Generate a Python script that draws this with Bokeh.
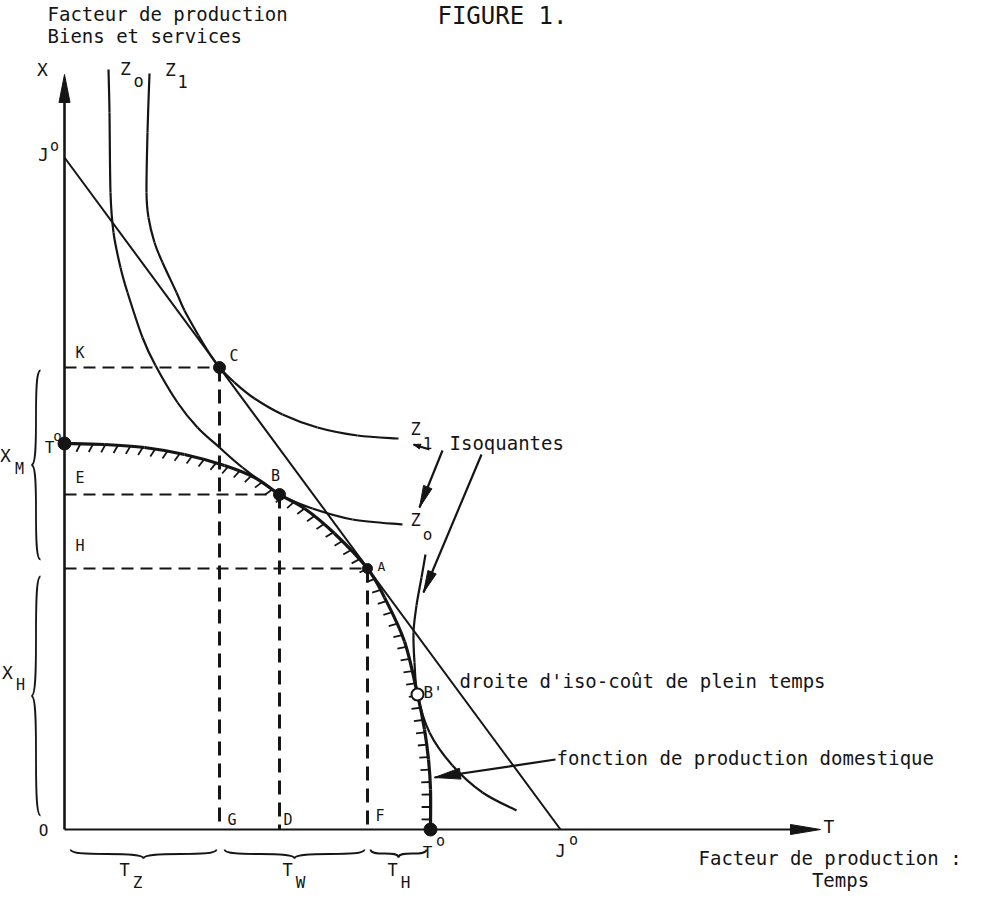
import numpy as np
from bokeh.plotting import figure
from bokeh.models import Range1d, Label
from bokeh.embed import file_html
from bokeh.resources import INLINE

INK = "#151515"
MONO = "DejaVu Sans Mono"

# ---------------- data (T = time input, X = goods & services input) ----------------
t_axis_end = 756
x_axis_end = 755

# full-time iso-cost line J0 - J0
j0_t = 496
j0_x = 672

# domestic production function T0 - T0
ppf_t = [0, 40, 80, 120, 160, 190, 215, 240, 270, 303, 320, 340, 353, 360, 364, 366, 366]
ppf_x = [386, 385, 382, 375, 364, 352, 335, 321, 296, 261, 232, 188, 135, 100, 70, 40, 0]

# isoquant Z0
z0_t = [44, 45, 46, 49, 56, 63, 78, 91, 113, 133, 155, 178, 215, 248, 288, 338]
z0_x = [760, 717, 637, 597, 562, 537, 492, 464, 427, 402, 382, 362, 335, 321, 310, 305]

# isoquant Z1
z1_t = [85, 83, 82, 84, 90, 98, 112, 120, 134, 145, 155, 170, 190, 218, 253, 293, 334]
z1_x = [756, 697, 637, 612, 587, 567, 537, 519, 494, 476, 462, 447, 431, 415, 402, 394, 391]

# lower isoquant through B'
z2_t = [361, 357, 352, 349, 350, 353, 365, 388, 418, 452]
z2_x = [275, 252, 224, 197, 167, 135, 97, 64, 37, 19]

# named points C, B, A, B'
pt_names = ["C", "B", "A", "B'"]
pt_t = [155, 215, 303, 353]
pt_x = [462, 335, 261, 135]

# ---------------- figure ----------------
W, H = 968, 894
p = figure(width=W, height=H, x_range=Range1d(-64, 904), y_range=Range1d(-65, 829),
           output_backend="svg", toolbar_location=None, min_border=0,
           x_axis_type=None, y_axis_type=None)
p.grid.visible = False
p.outline_line_color = None
p.background_fill_color = "white"
p.border_fill_color = "white"


def smooth(ts, xs):
    P = np.column_stack([ts, xs]).astype(float)
    n = len(P)
    out = dict(x0=[], y0=[], x1=[], y1=[], cx0=[], cy0=[], cx1=[], cy1=[])
    for i in range(n - 1):
        p0, p1 = P[i], P[i + 1]
        pm = P[i - 1] if i > 0 else p0
        p2 = P[i + 2] if i + 2 < n else p1
        c0 = p0 + (p1 - pm) / 6.0
        c1 = p1 - (p2 - p0) / 6.0
        out["x0"].append(p0[0]); out["y0"].append(p0[1])
        out["x1"].append(p1[0]); out["y1"].append(p1[1])
        out["cx0"].append(c0[0]); out["cy0"].append(c0[1])
        out["cx1"].append(c1[0]); out["cy1"].append(c1[1])
    return out


def bez_sample(seg, k=30):
    pts = []
    for i in range(len(seg["x0"])):
        s = np.linspace(0, 1, k, endpoint=False)[:, None]
        P0 = np.array([seg["x0"][i], seg["y0"][i]])
        C0 = np.array([seg["cx0"][i], seg["cy0"][i]])
        C1 = np.array([seg["cx1"][i], seg["cy1"][i]])
        P1 = np.array([seg["x1"][i], seg["y1"][i]])
        pts.append((1 - s) ** 3 * P0 + 3 * (1 - s) ** 2 * s * C0 + 3 * (1 - s) * s ** 2 * C1 + s ** 3 * P1)
    pts.append(np.array([[seg["x1"][-1], seg["y1"][-1]]]))
    return np.vstack(pts)


def head(tip, frm, length, width):
    tip = np.array(tip, float); frm = np.array(frm, float)
    d = tip - frm; d /= np.hypot(*d)
    n = np.array([-d[1], d[0]])
    b = tip - d * length
    return ([tip[0], b[0] + n[0] * width / 2, b[0] - n[0] * width / 2],
            [tip[1], b[1] + n[1] * width / 2, b[1] - n[1] * width / 2])


# ---------------- curves ----------------
ppf_seg = smooth(ppf_t, ppf_x)
p.bezier(line_color=INK, line_width=3.2, **ppf_seg)
for ts, xs in [(z0_t, z0_x), (z1_t, z1_x), (z2_t, z2_x)]:
    p.bezier(line_color=INK, line_width=2.2, **smooth(ts, xs))

# iso-cost line
p.line([0, j0_t], [j0_x, 0], line_color=INK, line_width=2)

# hatching of the production frontier (inner side)
pts = bez_sample(ppf_seg)
seglen = np.hypot(np.diff(pts[:, 0]), np.diff(pts[:, 1]))
cum = np.concatenate([[0], np.cumsum(seglen)])
hx0, hy0, hx1, hy1 = [], [], [], []
for s in np.arange(16, cum[-1] - 8, 12.5):
    i = np.searchsorted(cum, s) - 1
    f = (s - cum[i]) / seglen[i]
    q = pts[i] + f * (pts[i + 1] - pts[i])
    tg = pts[i + 1] - pts[i]; tg /= np.hypot(*tg)
    nrm = np.array([tg[1], -tg[0]]) + np.array([-0.5, 0.0])
    nrm /= np.hypot(*nrm)
    e = q + nrm * 9
    hx0.append(q[0]); hy0.append(q[1]); hx1.append(e[0]); hy1.append(e[1])
p.segment(hx0, hy0, hx1, hy1, line_color=INK, line_width=1.8)

# ---------------- axes ----------------
p.line([0, t_axis_end - 20], [0, 0], line_color=INK, line_width=2.2)
p.line([0, 0], [0, x_axis_end - 20], line_color=INK, line_width=2.6)
heads_x, heads_y = [], []
for tip, frm, L, Wd in [((t_axis_end, 0), (0, 0), 30, 10), ((0, x_axis_end), (0, 0), 28, 11)]:
    hx, hy = head(tip, frm, L, Wd); heads_x.append(hx); heads_y.append(hy)

# ---------------- dashed guides ----------------
ct, cx = pt_t[0], pt_x[0]
bt, bx = pt_t[1], pt_x[1]
at, ax = pt_t[2], pt_x[2]
p.multi_line([[0, ct], [0, bt], [0, at]], [[cx, cx], [bx, bx], [ax, ax]],
             line_color=INK, line_width=2, line_dash="12 7")
p.multi_line([[ct, ct], [bt, bt], [at, at]], [[cx, 0], [bx, 0], [ax, 0]],
             line_color=INK, line_width=3, line_dash="14 8")

# ---------------- pointer arrows ----------------
arrows = [((355, 322), (378, 379), 22, 9),
          ((359, 237), (417, 375), 22, 9),
          ((349, 385), (365, 380), 7, 5),
          ((370, 52), (491, 70), 26, 11)]
for tip, frm, L, Wd in arrows:
    p.segment([frm[0]], [frm[1]], [tip[0]], [tip[1]], line_color=INK, line_width=2.2)
    hx, hy = head(tip, frm, L, Wd); heads_x.append(hx); heads_y.append(hy)
p.patches(heads_x, heads_y, fill_color=INK, line_color=INK, line_width=1)

# ---------------- braces ----------------
bz = dict(x0=[], y0=[], x1=[], y1=[], cx0=[], cy0=[], cx1=[], cy1=[])


def brace(a, b, depth, side):
    a = np.array(a, float); b = np.array(b, float); n = np.array(side, float)
    m = (a + b) / 2; tip = m + n * depth
    for e in (a, b):
        c0 = e + n * depth
        bz["x0"].append(e[0]); bz["y0"].append(e[1])
        bz["cx0"].append(c0[0]); bz["cy0"].append(c0[1])
        bz["cx1"].append(m[0]); bz["cy1"].append(m[1])
        bz["x1"].append(tip[0]); bz["y1"].append(tip[1])


t0_t = ppf_t[-1]
t0_x = ppf_x[0]
brace((-24, cx - 3), (-24, ax + 9), 9, (-1, 0))
brace((-24, ax - 8), (-24, 14), 9, (-1, 0))
brace((6, -20), (ct - 3, -20), 9, (0, -1))
brace((ct + 5, -20), (at - 3, -20), 9, (0, -1))
brace((at + 3, -20), (t0_t - 4, -20), 8, (0, -1))
p.bezier(line_color=INK, line_width=1.8, **bz)

# ---------------- points ----------------
p.scatter([0, t0_t], [t0_x, 0], size=13, marker="circle", fill_color=INK, line_color=INK)
p.scatter(pt_t[:3], pt_x[:3], size=[12, 12, 10], marker="circle", fill_color=INK, line_color=INK)
p.scatter(pt_t[3:], pt_x[3:], size=12, marker="circle", fill_color="white", line_color=INK, line_width=2)


# ---------------- texts ----------------
def lab(t, x, s, size=19, align="left", base="middle", font=MONO, style="normal"):
    p.add_layout(Label(x=t, y=x, text=s, text_font=font, text_font_size=f"{size}px",
                       text_align=align, text_baseline=base, text_color=INK,
                       text_font_style=style))


lab(-17, 816, "Facteur de production")
lab(-17, 794, "Biens et services")
lab(503, 814, "FIGURE 1.", size=24, align="right")

lab(-22, 760, "X", 18, "center")
lab(t_axis_end + 3, 3, "T", 18)
lab(-21, -1, "O", 16, "center")

lab(61, 761, "Z", 18, "center"); lab(74, 749, "o", 17, "center")
lab(106, 760, "Z", 18, "center"); lab(118, 748, "1", 17, "center")
lab(-21, j0_x + 3, "J", 18, "center"); lab(-10, j0_x + 12, "o", 15, "center")
lab(-15, t0_x - 4, "T", 16, "center"); lab(-7, t0_x + 8, "o", 14, "center")

lab(11, cx + 15, "K", 15, "left")
lab(ct + 10, cx + 12, "C", 15, "left")
lab(11, bx + 17, "E", 15, "left")
lab(bt - 4, bx + 19, "B", 15, "center")
lab(11, ax + 23, "H", 15, "left")
lab(at + 10, ax + 2, "A", 13, "left")
lab(ct + 8, 10, "G", 15, "left")
lab(bt + 4, 10, "D", 15, "left")
lab(at + 8, 14, "F", 15, "left")
lab(pt_t[3] + 6, pt_x[3] + 2, "B'", 16, "left")

lab(t0_t - 3, -23, "T", 16, "center"); lab(t0_t + 10, -11, "o", 15, "center")
lab(j0_t, -21, "J", 17, "center"); lab(j0_t + 13, -10, "o", 15, "center")

lab(351, 401, "Z", 17, "center"); lab(363, 387, "1", 16, "center")
lab(351, 310, "Z", 17, "center"); lab(363, 295, "o", 16, "center")
lab(385, 387, "Isoquantes")
lab(395, 149, "droite d'iso-coût de plein temps")
lab(492, 72, "fonction de production domestique")

lab(-59, 374, "X", 18, "center"); lab(-45, 361, "M", 15, "center")
lab(-57, 157, "X", 18, "center"); lab(-44, 145, "H", 15, "center")
lab(60, -40, "T", 17, "center"); lab(73, -53, "Z", 16, "center")
lab(223, -40, "T", 17, "center"); lab(236, -53, "W", 16, "center")
lab(328, -40, "T", 17, "center"); lab(341, -53, "H", 16, "center")

lab(634, -28, "Facteur de production :")
lab(776, -50, "Temps", 19, "center")

open("out.html", "w").write(file_html(p, INLINE))
